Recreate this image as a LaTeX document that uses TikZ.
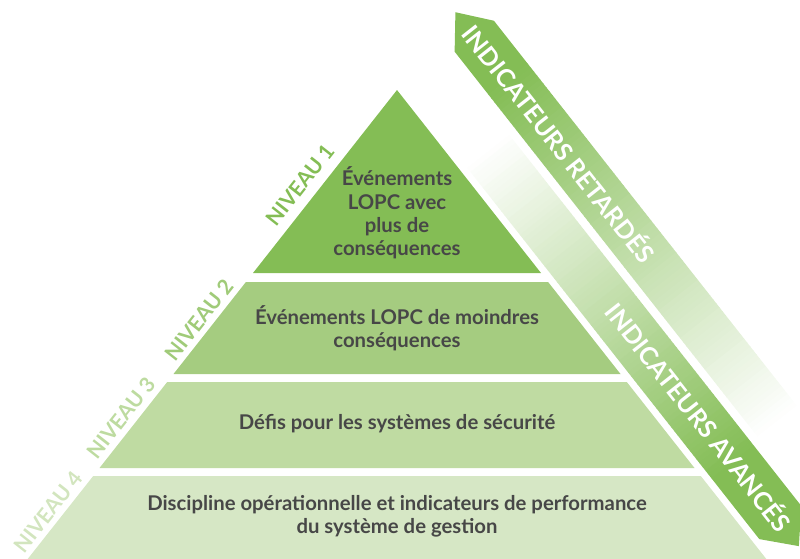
\documentclass[tikz,border=0pt]{standalone}
\usepackage{fontspec}
\setmainfont{Lato}
\definecolor{gOne}{HTML}{84BD55}
\definecolor{gTwo}{HTML}{A5CC80}
\definecolor{gThree}{HTML}{BFDBA2}
\definecolor{gFour}{HTML}{D6E7C5}
\definecolor{txt}{HTML}{474747}
\definecolor{nTwo}{HTML}{A0CB79}
\definecolor{nThree}{HTML}{BDDBA0}
\definecolor{nFour}{HTML}{D2E5BE}
\begin{document}
\begin{tikzpicture}[x=1pt,y=-1pt,
  tiertext/.style={font=\fontsize{20.3}{23.4}\selectfont\bfseries, text=txt, align=center, inner sep=0pt},
  niveau/.style={font=\fontsize{21}{21}\selectfont\bfseries, rotate=51.8, inner sep=0pt},
  bandtext/.style={font=\fontsize{25}{25}\selectfont\bfseries, text=white, rotate=-51.8, inner sep=0pt}]
\useasboundingbox (0,0) rectangle (800,558);
\clip (0,0) rectangle (800,558);
% pyramid tiers
\fill[gOne] (397,90) -- (541,273) -- (253,273) -- cycle;
\fill[gTwo] (245.9,282) -- (548.1,282) -- (620.5,374) -- (173.5,374) -- cycle;
\fill[gThree] (167.2,382) -- (626.8,382) -- (694.5,468) -- (99.5,468) -- cycle;
\fill[gFour] (93.2,476) -- (700.8,476) -- (767.9,561) -- (26.1,561) -- cycle;
% bands
\begin{scope}[shift={(397,90)}, rotate=-51.8]
  % upper band (lagging indicators)
  \fill[gOne] (60.5,-69) -- (5.5,-69) -- (-25,-94) -- (5.5,-119) -- (60.5,-119) -- cycle;
  \foreach \i in {0,...,87}{
    \pgfmathsetmacro\sa{60+5*\i}
    \pgfmathsetmacro\sb{\sa+5.6}
    \pgfmathtruncatemacro\pc{100-100*(\i+0.5)/88}
    \fill[gOne!\pc!white] (\sa,-69) rectangle (\sb,-119);
  }
  % lower band (leading indicators)
  \foreach \i in {0,...,79}{
    \pgfmathsetmacro\sa{100+5*\i}
    \pgfmathsetmacro\sb{\sa+5.6}
    \pgfmathtruncatemacro\pc{100*(\i+0.5)/80}
    \fill[gOne!\pc!white] (\sa,-7) rectangle (\sb,-60.5);
  }
  \fill[gOne] (500,-7) -- (577,-7) -- (607,-33.75) -- (577,-60.5) -- (500,-60.5) -- cycle;
\end{scope}
\node[bandtext] (ret) at (560,143) {INDICATEURS RETARDÉS};
\node[bandtext] (ava) at (700,416) {INDICATEURS AVANCÉS};
% level labels
\node[niveau, text=gOne] (n1) at (300,185) {NIVEAU 1};
\node[niveau, text=nTwo] (n2) at (199,320) {NIVEAU 2};
\node[niveau, text=nThree] (n3) at (121,418) {NIVEAU 3};
\node[niveau, text=nFour] (n4) at (48,512) {NIVEAU 4};
% tier texts
\node[tiertext] (t1) at (397,213) {Événements\\LOPC avec\\plus de\\conséquences};
\node[tiertext] (t2) at (397,328) {Événements LOPC de moindres\\conséquences};
\node[tiertext] (t3) at (397,424) {Défis pour les systèmes de sécurité};
\node[tiertext] (t4) at (397,516) {Discipline opérationnelle et indicateurs de performance\\du système de gestion};
\end{tikzpicture}
\end{document}
